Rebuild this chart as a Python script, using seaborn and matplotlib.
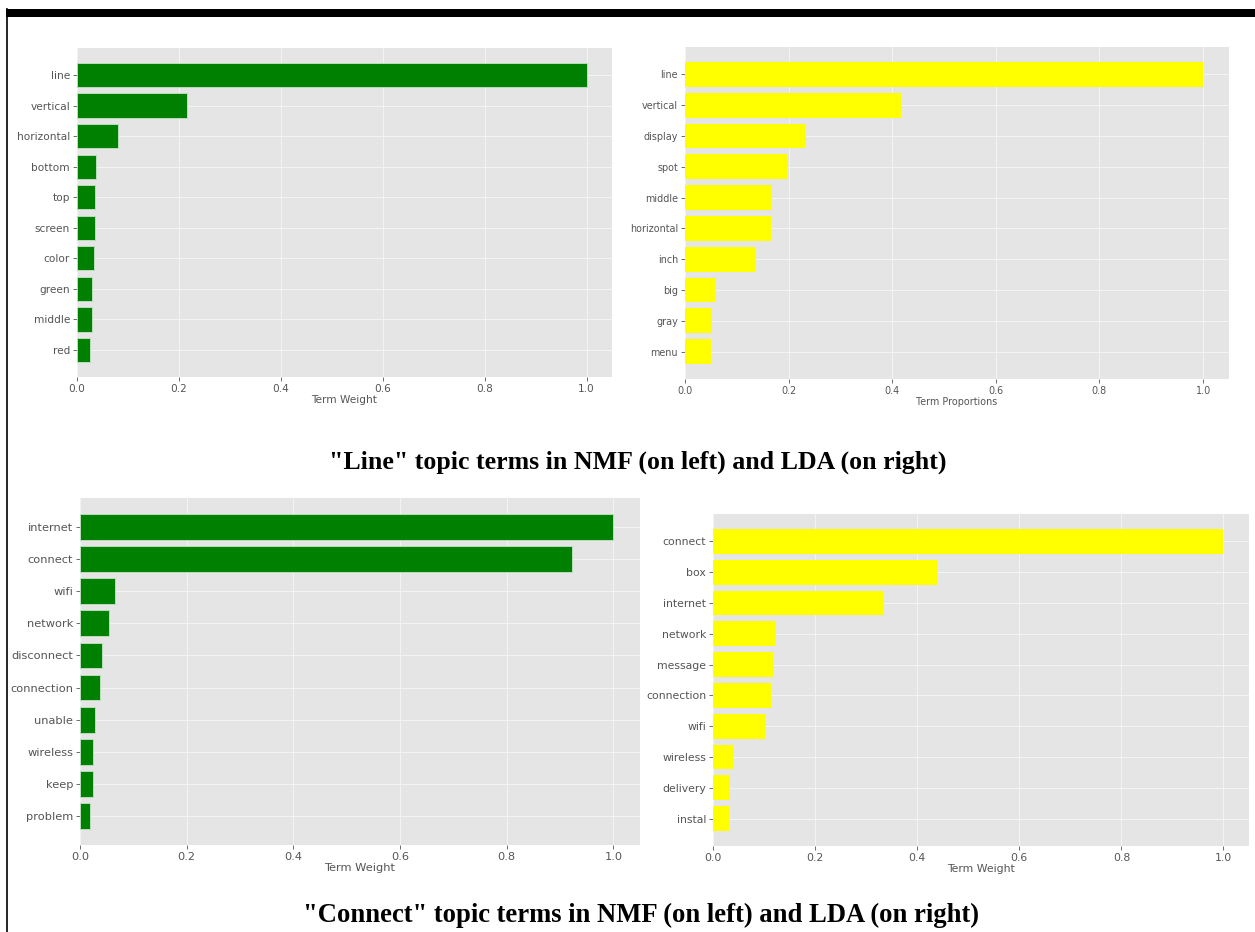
import matplotlib
matplotlib.use("Agg")
import matplotlib.pyplot as plt
import seaborn as sns
from matplotlib.patches import Rectangle
from matplotlib.lines import Line2D

# ---- data ----
nmf_line_terms = ["line", "vertical", "horizontal", "bottom", "top", "screen", "color", "green", "middle", "red"]
nmf_line_vals = [1.0, 0.216, 0.080, 0.038, 0.036, 0.035, 0.033, 0.030, 0.029, 0.026]

lda_line_terms = ["line", "vertical", "display", "spot", "middle", "horizontal", "inch", "big", "gray", "menu"]
lda_line_vals = [1.0, 0.417, 0.233, 0.198, 0.167, 0.166, 0.137, 0.059, 0.052, 0.050]

nmf_conn_terms = ["internet", "connect", "wifi", "network", "disconnect", "connection", "unable", "wireless", "keep", "problem"]
nmf_conn_vals = [1.0, 0.923, 0.066, 0.055, 0.041, 0.037, 0.029, 0.025, 0.025, 0.018]

lda_conn_terms = ["connect", "box", "internet", "network", "message", "connection", "wifi", "wireless", "delivery", "instal"]
lda_conn_vals = [1.0, 0.438, 0.335, 0.123, 0.117, 0.113, 0.101, 0.040, 0.033, 0.032]

xticks = [0.0, 0.2, 0.4, 0.6, 0.8, 1.0]
xtick_labels = ["0.0", "0.2", "0.4", "0.6", "0.8", "1.0"]

caption_top = '"Line" topic terms in NMF (on left) and LDA (on right)'
caption_bottom = '"Connect" topic terms in NMF (on left) and LDA (on right)'

plt.style.use("ggplot")

W, H = 1255, 932
fig = plt.figure(figsize=(W / 100, H / 100), dpi=100)
fig.patch.set_facecolor("white")


def px_axes(left, top, right, bottom):
    return fig.add_axes([left / W, 1 - bottom / H, (right - left) / W, (bottom - top) / H])


panels = [
    # (box px, terms, vals, color, xlabel, fontsize)
    ((77, 48, 612, 377), nmf_line_terms, nmf_line_vals, "green", "Term Weight", 7.6),
    ((685, 47, 1229, 379), lda_line_terms, lda_line_vals, "yellow", "Term Proportions", 6.9),
    ((80, 498, 640, 845), nmf_conn_terms, nmf_conn_vals, "green", "Term Weight", 8.2),
    ((713, 514, 1249, 846), lda_conn_terms, lda_conn_vals, "yellow", "Term Weight", 7.8),
]

for box, terms, vals, col, xlabel, fs in panels:
    ax = px_axes(*box)
    sns.barplot(x=vals, y=terms, ax=ax, color=col, saturation=1, orient="h",
                width=0.8, edgecolor="#BBDDBB" if col == "green" else "none", linewidth=0.7)
    ax.set_ylim(len(terms) - 1 + 0.89, -0.89)
    ax.set_xlim(0, 1.05)
    ax.set_xticks(xticks)
    ax.set_xticklabels(xtick_labels)
    ax.yaxis.grid(True, color="#F3F3F3", linewidth=0.8)
    ax.xaxis.grid(True, color="#F3F3F3", linewidth=0.8)
    ax.set_axisbelow(True)
    ax.set_facecolor("#E5E5E5")
    for s in ax.spines.values():
        s.set_visible(False)
    ax.tick_params(axis="both", labelsize=fs, colors="#555555", length=3, width=0.6, pad=2)
    ax.set_xlabel(xlabel, fontsize=fs, color="#555555", labelpad=1)
    ax.set_ylabel("")

fig.text(638 / W, 1 - 462 / H, caption_top, ha="center", va="center",
         family="Liberation Serif", weight="bold", fontsize=18.6, color="black")
fig.text(641 / W, 1 - 915 / H, caption_bottom, ha="center", va="center",
         family="Liberation Serif", weight="bold", fontsize=19.2, color="black")

# page frame: thick top bar and thin left rule
fig.patches.append(Rectangle((6 / W, 1 - 17 / H), 1 - 6 / W, 8 / H,
                             transform=fig.transFigure, facecolor="black", edgecolor="none"))
fig.lines.append(Line2D([6.5 / W, 6.5 / W], [0, 1 - 9 / H], transform=fig.transFigure,
                        color="black", linewidth=1.2))

fig.savefig("out.png", dpi=100, facecolor="white")
